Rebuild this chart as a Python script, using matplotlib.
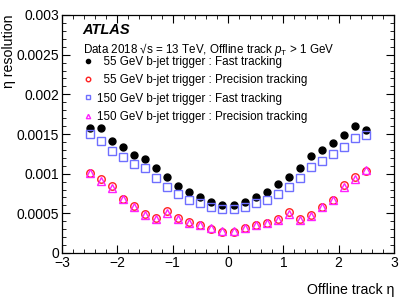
import matplotlib
matplotlib.use("Agg")
import matplotlib.pyplot as plt
from matplotlib.ticker import MultipleLocator, FuncFormatter

plt.rcParams['font.family'] = ['Liberation Sans', 'DejaVu Sans']
plt.rcParams['mathtext.fontset'] = 'custom'
plt.rcParams['mathtext.rm'] = 'Liberation Sans'
plt.rcParams['mathtext.it'] = 'Liberation Sans:italic'

# eta bin centres
eta = [-2.5, -2.3, -2.1, -1.9, -1.7, -1.5, -1.3, -1.1, -0.9, -0.7, -0.5, -0.3, -0.1,
       0.1, 0.3, 0.5, 0.7, 0.9, 1.1, 1.3, 1.5, 1.7, 1.9, 2.1, 2.3, 2.5]

# eta resolution (units of 1e-3)
fast_55 = [1.576, 1.570, 1.416, 1.340, 1.235, 1.190, 1.067, 0.954, 0.848, 0.765, 0.702, 0.639, 0.605,
           0.605, 0.639, 0.702, 0.765, 0.866, 0.962, 1.076, 1.227, 1.298, 1.387, 1.487, 1.605, 1.555]
prec_55 = [1.010, 0.930, 0.850, 0.680, 0.590, 0.490, 0.440, 0.530, 0.445, 0.387, 0.353, 0.303, 0.261,
           0.269, 0.311, 0.353, 0.374, 0.425, 0.513, 0.425, 0.479, 0.584, 0.668, 0.857, 0.962, 1.034]
fast_150 = [1.496, 1.416, 1.290, 1.214, 1.118, 1.067, 0.950, 0.828, 0.740, 0.668, 0.626, 0.580, 0.551,
            0.551, 0.584, 0.626, 0.668, 0.744, 0.836, 0.950, 1.088, 1.160, 1.250, 1.332, 1.446, 1.487]
prec_150 = [1.010, 0.910, 0.825, 0.675, 0.585, 0.485, 0.430, 0.500, 0.430, 0.380, 0.350, 0.320, 0.280,
            0.280, 0.320, 0.350, 0.375, 0.410, 0.490, 0.415, 0.470, 0.580, 0.665, 0.830, 0.935, 1.045]

labels = ['  55 GeV b-jet trigger : Fast tracking',
          '  55 GeV b-jet trigger : Precision tracking',
          '150 GeV b-jet trigger : Fast tracking',
          '150 GeV b-jet trigger : Precision tracking']

fig = plt.figure(figsize=(4.15, 2.98), dpi=100)
ax = fig.add_axes([62 / 415, 1 - 253 / 298, 332 / 415, 238 / 298])

s = 1e-3
h1, = ax.plot(eta, [v * s for v in fast_55], 'o', color='black', ms=5.0, ls='none')
h2, = ax.plot(eta, [v * s for v in prec_55], 'o', mfc='none', mec='#ff2020', mew=1.0, ms=5.4, ls='none')
h3, = ax.plot(eta, [v * s for v in fast_150], 's', mfc='none', mec='#6f6fff', mew=1.0, ms=5.6, ls='none')
h4, = ax.plot(eta, [v * s for v in prec_150], '^', mfc='none', mec='#ff20ff', mew=1.0, ms=5.2, ls='none')

ax.set_xlim(-3, 3)
ax.set_ylim(0, 0.003)
ax.xaxis.set_major_locator(MultipleLocator(1))
ax.xaxis.set_minor_locator(MultipleLocator(0.2))
ax.yaxis.set_major_locator(MultipleLocator(0.0005))
ax.yaxis.set_minor_locator(MultipleLocator(0.0001))
ax.yaxis.set_major_formatter(FuncFormatter(lambda v, p: '0' if v == 0 else f'{v:g}'))
ax.tick_params(which='both', direction='in', top=True, right=True, labelsize=10)
ax.tick_params(axis='x', pad=2.5)
ax.tick_params(axis='y', pad=2)
ax.tick_params(which='major', length=6)
ax.tick_params(which='minor', length=3)
for sp in ax.spines.values():
    sp.set_linewidth(0.9)

ax.set_xlabel('Offline track η', fontsize=10.2, loc='right')
ax.set_ylabel('η resolution', fontsize=10.2, loc='top')
ax.xaxis.set_label_coords(1.0, -0.125)
ax.yaxis.set_label_coords(-0.139, 1.0)

ax.text(0.06, 0.935, 'ATLAS', transform=ax.transAxes, fontsize=10.5,
        fontweight='bold', fontstyle='italic', va='center')
ax.text(0.062, 0.853, 'Data 2018 √s = 13 TeV, Offline track $p_{\\mathrm{T}}$ > 1 GeV',
        transform=ax.transAxes, fontsize=8.35, va='center')

ax.legend([h1, h2, h3, h4], labels, loc='upper left', bbox_to_anchor=(0.062, 0.826),
          frameon=False, fontsize=8.4, handlelength=1.0, handletextpad=0.24,
          labelspacing=0.52, borderaxespad=0, borderpad=0, markerscale=0.6)

fig.savefig('out.png', dpi=100)
